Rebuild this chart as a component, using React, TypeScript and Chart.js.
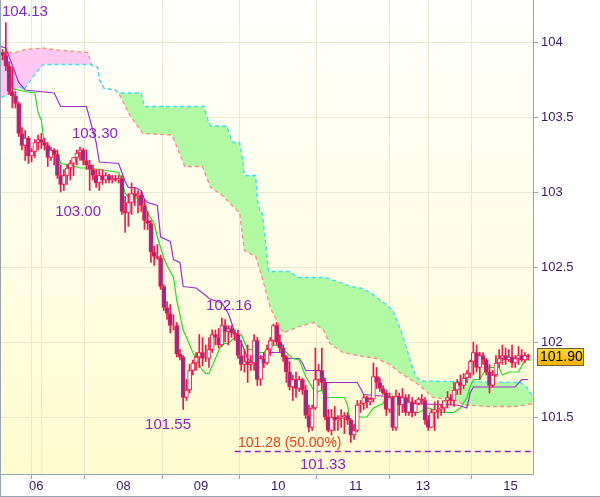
import React, { useEffect, useRef } from 'react';
import { Chart, registerables } from 'chart.js';

Chart.register(...registerables);

// ---- candle data (hourly bars, index 0..163) ----
const OPEN = [103.93,103.91,103.84,103.67,103.64,103.59,103.39,103.31,103.36,103.24,103.27,103.33,103.35,103.33,103.31,103.23,103.28,103.25,103.11,103.05,103.11,103.16,103.19,103.23,103.26,103.28,103.21,103.18,103.15,103.11,103.06,103.11,103.08,103.11,103.08,103.09,103.08,103.09,102.87,102.86,102.93,102.99,102.97,102.98,102.91,102.81,102.79,102.60,102.57,102.56,102.37,102.23,102.19,102.11,102.11,101.92,101.90,101.63,101.68,101.81,101.86,101.90,101.93,101.89,101.89,101.95,102.05,102.03,101.98,102.11,102.07,102.09,102.06,102.05,101.91,101.85,101.87,101.85,101.86,102.01,101.75,101.89,101.86,101.95,102.01,102.11,102.00,101.96,101.90,101.80,101.70,101.75,101.69,101.75,101.68,101.51,101.43,101.56,101.75,101.81,101.73,101.50,101.41,101.50,101.48,101.49,101.50,101.51,101.48,101.38,101.41,101.58,101.59,101.63,101.60,101.62,101.77,101.73,101.69,101.66,101.55,101.63,101.43,101.64,101.58,101.63,101.53,101.60,101.53,101.59,101.62,101.61,101.48,101.43,101.53,101.55,101.55,101.56,101.61,101.63,101.61,101.68,101.73,101.71,101.76,101.79,101.87,101.93,101.83,101.91,101.88,101.80,101.71,101.78,101.86,101.89,101.91,101.88,101.90,101.86,101.89,101.91,101.88,101.91];
const HIGH = [103.95,104.13,103.87,103.83,103.67,103.60,103.43,103.41,103.37,103.29,103.35,103.38,103.39,103.36,103.33,103.30,103.29,103.28,103.18,103.15,103.18,103.21,103.23,103.28,103.30,103.29,103.28,103.21,103.18,103.15,103.15,103.15,103.13,103.12,103.11,103.11,103.11,103.11,102.97,102.99,103.06,103.03,103.01,103.00,102.95,102.87,102.81,102.64,102.65,102.58,102.38,102.27,102.25,102.18,102.13,101.95,101.91,101.75,101.85,101.88,101.93,102.05,102.03,101.98,102.03,102.08,102.08,102.09,102.16,102.15,102.11,102.11,102.08,102.08,102.01,101.95,101.98,101.91,102.05,102.03,101.91,101.93,101.98,102.03,102.12,102.13,102.05,101.98,101.91,101.87,101.78,101.80,101.77,101.76,101.71,101.58,101.58,101.96,101.85,101.96,101.76,101.55,101.55,101.57,101.51,101.55,101.53,101.53,101.49,101.45,101.61,101.61,101.65,101.64,101.63,101.86,101.83,101.76,101.71,101.68,101.66,101.64,101.68,101.66,101.69,101.65,101.65,101.63,101.61,101.63,101.65,101.63,101.51,101.55,101.60,101.61,101.58,101.61,101.67,101.65,101.73,101.75,101.78,101.79,101.81,101.88,102.00,101.98,101.93,101.93,101.89,101.85,101.81,101.91,101.95,101.98,101.96,101.95,101.98,101.91,101.97,101.95,101.93,101.92];
const LOW = [103.88,103.81,103.65,103.56,103.56,103.37,103.28,103.21,103.19,103.20,103.23,103.28,103.29,103.28,103.17,103.21,103.18,103.09,103.00,103.01,103.05,103.08,103.11,103.18,103.21,103.18,103.15,103.01,103.08,103.03,103.01,103.05,103.06,103.06,103.06,103.07,103.06,102.85,102.73,102.77,102.85,102.91,102.86,102.87,102.75,102.75,102.53,102.51,102.55,102.35,102.21,102.15,102.06,102.08,101.90,101.88,101.55,101.61,101.66,101.78,101.81,101.83,101.84,101.87,101.83,101.93,101.98,101.96,101.97,102.00,101.98,102.03,102.01,101.89,101.81,101.80,101.73,101.81,101.81,101.71,101.71,101.83,101.85,101.91,101.98,101.98,101.93,101.87,101.73,101.68,101.61,101.63,101.67,101.65,101.49,101.40,101.41,101.55,101.71,101.68,101.48,101.40,101.38,101.41,101.41,101.43,101.39,101.45,101.33,101.35,101.40,101.53,101.55,101.56,101.58,101.60,101.69,101.67,101.65,101.51,101.53,101.41,101.41,101.51,101.53,101.51,101.51,101.50,101.51,101.58,101.59,101.45,101.41,101.43,101.41,101.49,101.51,101.53,101.56,101.58,101.57,101.65,101.65,101.69,101.73,101.76,101.78,101.80,101.75,101.85,101.78,101.66,101.70,101.77,101.83,101.85,101.85,101.87,101.83,101.83,101.85,101.87,101.86,101.88];
const CLOSE = [103.91,103.84,103.67,103.64,103.59,103.39,103.31,103.36,103.24,103.27,103.33,103.35,103.33,103.31,103.23,103.28,103.25,103.11,103.05,103.11,103.16,103.19,103.23,103.26,103.28,103.21,103.18,103.15,103.11,103.06,103.11,103.08,103.11,103.08,103.09,103.08,103.09,102.87,102.86,102.93,102.99,102.97,102.98,102.91,102.81,102.79,102.60,102.57,102.56,102.37,102.23,102.19,102.11,102.11,101.92,101.90,101.63,101.68,101.81,101.86,101.90,101.93,101.89,101.89,101.95,102.05,102.03,101.98,102.11,102.07,102.09,102.06,102.05,101.91,101.85,101.87,101.85,101.86,102.01,101.75,101.89,101.86,101.95,102.01,102.11,102.00,101.96,101.90,101.80,101.70,101.75,101.69,101.75,101.68,101.51,101.43,101.56,101.75,101.81,101.73,101.50,101.41,101.50,101.48,101.49,101.50,101.51,101.48,101.38,101.41,101.58,101.59,101.63,101.60,101.62,101.77,101.73,101.69,101.66,101.55,101.63,101.43,101.64,101.58,101.63,101.53,101.60,101.53,101.59,101.62,101.61,101.48,101.43,101.53,101.55,101.55,101.56,101.61,101.63,101.61,101.68,101.73,101.71,101.76,101.79,101.87,101.93,101.83,101.91,101.88,101.80,101.71,101.78,101.86,101.89,101.91,101.88,101.90,101.86,101.89,101.91,101.88,101.91,101.90];

// ---- Ichimoku lines: [bar index, price] vertices ----
const TENKAN: [number, number][] = [[-0.5,103.89],[1,103.89],[2,103.83],[3,103.69],[7,103.67],[10,103.66],[11,103.53],[12,103.48],[13,103.30],[14,103.28],[17,103.27],[18,103.19],[21,103.18],[24,103.16],[27,103.16],[30,103.15],[36,103.13],[37,103.08],[38,102.99],[39,102.97],[43,102.95],[44,102.93],[45,102.86],[47,102.79],[48,102.70],[50,102.56],[51,102.51],[53,102.43],[54,102.28],[56,102.08],[57,102.03],[59,101.93],[60,101.89],[62,101.81],[63,101.79],[64,101.79],[68,101.99],[70,101.99],[72,102.03],[74,102.05],[76,101.95],[78,101.95],[79,101.93],[81,101.93],[83,101.97],[85,101.98],[88,101.93],[90,101.89],[92,101.88],[94,101.77],[97,101.66],[98,101.67],[99,101.68],[100,101.63],[106,101.63],[107,101.58],[108,101.43],[109,101.43],[110,101.50],[113,101.50],[115,101.56],[118,101.59],[119,101.64],[123,101.63],[125,101.55],[126,101.53],[129,101.53],[131,101.55],[132,101.56],[136,101.53],[140,101.53],[142,101.56],[144,101.63],[145,101.70],[146,101.75],[148,101.75],[149,101.79],[151,101.83],[154,101.83],[155,101.78],[157,101.80],[160,101.80],[161,101.84],[162,101.88],[164,101.88]];
const KIJUN: [number, number][] = [[-0.5,103.97],[1,103.96],[5,103.73],[7,103.68],[16,103.66],[18,103.57],[26,103.57],[29,103.33],[30,103.20],[36,103.19],[38,103.07],[39,103.03],[41,103.03],[43,103.01],[44,102.95],[45,102.93],[48,102.91],[49,102.70],[52,102.67],[53,102.55],[55,102.53],[56,102.37],[60,102.36],[63,102.31],[64,102.29],[68,102.26],[70,102.19],[71,102.13],[72,102.06],[73,102.03],[74,102.00],[76,101.89],[77,101.87],[79,101.87],[81,101.91],[82,101.93],[87,101.93],[88,101.89],[92,101.89],[93,101.86],[94,101.81],[99,101.81],[100,101.73],[110,101.73],[111,101.69],[112,101.65],[123,101.63],[124,101.59],[141,101.58],[144,101.56],[145,101.66],[146,101.70],[159,101.70],[161,101.75],[163,101.75]];
const SPAN_A: [number, number][] = [[-0.5,103.63],[1.5,103.65],[5.5,103.70],[6.5,103.68],[9.5,103.77],[12.5,103.85],[27,103.85],[29.5,103.83],[30,103.75],[31.5,103.69],[35,103.68],[36,103.66],[43,103.66],[44,103.57],[62.5,103.57],[63.5,103.49],[64.5,103.44],[69.5,103.44],[70.5,103.38],[71.5,103.33],[73.5,103.33],[74.5,103.21],[75,103.11],[78.5,103.11],[79,102.95],[80,102.86],[80.5,102.86],[81.5,102.68],[82.5,102.47],[89,102.47],[91.5,102.43],[100,102.43],[105.5,102.39],[108,102.37],[111,102.36],[114,102.33],[117,102.28],[119,102.25],[121,102.21],[122.5,102.13],[123.5,102.08],[125,101.98],[126.5,101.87],[128,101.78],[129.5,101.74],[159,101.73],[160.5,101.73],[162.5,101.70],[164.5,101.63]];
const SPAN_B: [number, number][] = [[-0.5,103.93],[4,103.93],[7,103.95],[12.5,103.96],[15.5,103.95],[26.5,103.93],[27.5,103.85],[29.5,103.83],[30,103.75],[31.5,103.69],[35,103.68],[36,103.66],[39.5,103.51],[43.5,103.39],[52.5,103.38],[53.5,103.33],[56.5,103.17],[62,103.17],[64.5,103.03],[68,102.98],[73.5,102.86],[75,102.61],[78.5,102.57],[80.5,102.43],[82,102.31],[83,102.23],[87,102.06],[91.5,102.10],[96.5,102.13],[99.5,102.08],[101.5,101.99],[105.5,101.93],[110,101.91],[116,101.89],[120,101.85],[123,101.80],[126.5,101.75],[129.5,101.71],[133.5,101.63],[140.5,101.61],[143.5,101.58],[151,101.57],[159,101.57],[162,101.58],[164.5,101.59]];

// ---- level line ----
const LEVEL_PRICE = 101.27;
const LEVEL_FROM = 72;
const LEVEL_TO = 164.5;

// ---- annotations ----
const NOTE_TEXT = ['104.13', '103.30', '103.00', '101.55', '102.16', '101.33'];
const NOTE_X = [-0.2, 21.5, 16.3, 44.2, 63.1, 92.2];
const NOTE_Y = [104.2, 103.39, 102.87, 101.45, 102.24, 101.18];
const LEVEL_TEXT = '101.28 (50.00%)';
const LEVEL_TEXT_X = 73.0;
const LEVEL_TEXT_Y = 101.327;
const LAST_PRICE = 101.9;

// ---- axes ----
const X_TICK_POS = [10.4, 13.5, 37.5, 61.5, 85.5, 109.5, 130.4, 133.5, 157.5];
const X_TICK_LABELS = ['06', '', '08', '09', '10', '11', '13', '', '15'];
const Y_TICKS = [101.5, 102, 102.5, 103, 103.5, 104];
const Y_MIN = 101.12;
const Y_MAX = 104.28;

const RED = '#f0164c';
const BEAR = '#8d2f92';
const BULL = '#fffff2';
const FONT = "'Liberation Sans', Arial, sans-serif";
const AXIS_TEXT = '#3b1767';
const NOTE_COLOR = '#8b22c8';
const GRID = '#e9e9d2';
const AXIS_LINE = '#98a4ae';

const bgPlugin = {
  id: 'bgPlugin',
  beforeDraw(chart: any) {
    const { ctx, chartArea: a, width, height } = chart;
    ctx.save();
    ctx.fillStyle = '#ffffff';
    ctx.fillRect(0, 0, width, height);
    const g = ctx.createLinearGradient(0, a.top, 0, a.bottom);
    g.addColorStop(0, '#fffffd');
    g.addColorStop(1, '#fffcd0');
    ctx.fillStyle = g;
    ctx.fillRect(a.left, a.top, a.right - a.left, a.bottom - a.top);
    ctx.restore();
  },
};

const notesPlugin = {
  id: 'notesPlugin',
  afterDatasetsDraw(chart: any) {
    const { ctx } = chart;
    const xs = chart.scales.x;
    const ys = chart.scales.y;
    ctx.save();
    ctx.textAlign = 'left';
    ctx.textBaseline = 'middle';
    ctx.font = `15px ${FONT}`;
    ctx.fillStyle = NOTE_COLOR;
    NOTE_TEXT.forEach((t, k) => {
      ctx.fillText(t, xs.getPixelForValue(NOTE_X[k]), ys.getPixelForValue(NOTE_Y[k]));
    });
    ctx.font = `14px ${FONT}`;
    ctx.fillStyle = '#f0401c';
    ctx.fillText(LEVEL_TEXT, xs.getPixelForValue(LEVEL_TEXT_X), ys.getPixelForValue(LEVEL_TEXT_Y));
    ctx.restore();
  },
  afterDraw(chart: any) {
    const { ctx, chartArea: a, width, height } = chart;
    const ys = chart.scales.y;
    ctx.save();
    const y = Math.round(ys.getPixelForValue(LAST_PRICE));
    const bx = a.right + 4;
    const by = y - 9;
    const g = ctx.createLinearGradient(0, by, 0, by + 18);
    g.addColorStop(0, '#ffdb3a');
    g.addColorStop(1, '#f0b000');
    ctx.fillStyle = g;
    ctx.fillRect(bx, by, 47, 18);
    ctx.strokeStyle = '#6f6040';
    ctx.lineWidth = 1;
    ctx.strokeRect(bx + 0.5, by + 0.5, 46, 17);
    ctx.fillStyle = '#000000';
    ctx.font = `14px ${FONT}`;
    ctx.textAlign = 'left';
    ctx.textBaseline = 'middle';
    ctx.fillText(LAST_PRICE.toFixed(2), bx + 3, y + 0.5);
    ctx.strokeStyle = AXIS_LINE;
    ctx.beginPath();
    ctx.moveTo(0.5, 0);
    ctx.lineTo(0.5, height);
    ctx.moveTo(0, height - 0.5);
    ctx.lineTo(width, height - 0.5);
    ctx.stroke();
    ctx.restore();
  },
};

export default function App() {
  const ref = useRef<HTMLCanvasElement>(null);

  useEffect(() => {
    document.body.style.margin = '0';
    const idx = CLOSE.map((_, i) => i);
    const pts = (arr: [number, number][]) => arr.map(([x, y]) => ({ x, y }));
    const chart = new Chart(ref.current as HTMLCanvasElement, {
      type: 'bar',
      data: {
        datasets: [
          {
            type: 'bar',
            label: 'body',
            data: idx.map((i) => ({ x: i, y: [OPEN[i], CLOSE[i]] })) as any,
            backgroundColor: idx.map((i) => (CLOSE[i] < OPEN[i] ? BEAR : BULL)),
            borderColor: RED,
            borderWidth: 1,
            borderSkipped: false,
            barThickness: 4,
            grouped: false,
            order: 0,
          } as any,
          {
            type: 'bar',
            label: 'wick',
            data: idx.map((i) => ({ x: i, y: [LOW[i], HIGH[i]] })) as any,
            backgroundColor: RED,
            barThickness: 1,
            grouped: false,
            order: 1,
          } as any,
          {
            type: 'line',
            label: 'tenkan',
            data: pts(TENKAN),
            borderColor: '#22dd22',
            borderWidth: 1.2,
            pointRadius: 0,
            tension: 0,
            order: 2,
          } as any,
          {
            type: 'line',
            label: 'kijun',
            data: pts(KIJUN),
            borderColor: '#9b30d0',
            borderWidth: 1.2,
            pointRadius: 0,
            tension: 0,
            order: 3,
          } as any,
          {
            type: 'line',
            label: 'spanA',
            data: pts(SPAN_A),
            borderColor: '#34e2f2',
            borderWidth: 1.3,
            borderDash: [4, 3],
            pointRadius: 0,
            tension: 0,
            fill: { target: '+1', above: '#b2f9a4', below: '#ffc8f2' },
            order: 6,
          } as any,
          {
            type: 'line',
            label: 'spanB',
            data: pts(SPAN_B),
            borderColor: '#f3907e',
            borderWidth: 1.3,
            borderDash: [4, 3],
            pointRadius: 0,
            tension: 0,
            fill: false,
            order: 7,
          } as any,
          {
            type: 'line',
            label: 'level',
            data: [
              { x: LEVEL_FROM, y: LEVEL_PRICE },
              { x: LEVEL_TO, y: LEVEL_PRICE },
            ],
            borderColor: '#8b22d0',
            borderWidth: 1.3,
            borderDash: [6, 4],
            pointRadius: 0,
            order: 4,
          } as any,
        ],
      },
      options: {
        responsive: false,
        animation: false,
        events: [],
        layout: { padding: { left: 1, top: 0, right: 0, bottom: 0 } },
        plugins: {
          legend: { display: false },
          tooltip: { enabled: false },
          filler: { drawTime: 'beforeDatasetsDraw' } as any,
        },
        scales: {
          x: {
            type: 'linear',
            min: -0.5,
            max: 164.5,
            offset: false,
            afterBuildTicks: (s: any) => {
              s.ticks = X_TICK_POS.map((v) => ({ value: v }));
            },
            afterFit: (s: any) => {
              s.height = 23;
              s.paddingLeft = 0;
              s.paddingRight = 0;
            },
            ticks: {
              autoSkip: false,
              maxRotation: 0,
              padding: 0,
              color: AXIS_TEXT,
              font: { family: FONT, size: 13 },
              callback: (_v: any, i: number) => X_TICK_LABELS[i],
            },
            grid: {
              color: GRID,
              tickLength: 5,
              tickColor: (c: any) => (X_TICK_LABELS[c.index] ? AXIS_LINE : 'rgba(0,0,0,0)'),
            },
            border: { color: AXIS_LINE, width: 1 },
          },
          y: {
            type: 'linear',
            position: 'right',
            min: Y_MIN,
            max: Y_MAX,
            afterBuildTicks: (s: any) => {
              s.ticks = Y_TICKS.map((v) => ({ value: v }));
            },
            afterFit: (s: any) => {
              s.width = 67;
              s.paddingTop = 0;
              s.paddingBottom = 0;
            },
            ticks: {
              padding: 3,
              color: AXIS_TEXT,
              font: { family: FONT, size: 13 },
              callback: (v: any) => {
                const n = Number(v);
                return Number.isInteger(n) ? n.toFixed(0) : n.toFixed(1);
              },
            },
            grid: { color: GRID, tickLength: 5, tickColor: AXIS_LINE },
            border: { color: AXIS_LINE, width: 1 },
          },
        },
      },
      plugins: [bgPlugin, notesPlugin],
    });
    return () => chart.destroy();
  }, []);

  return (
    <canvas
      ref={ref}
      width={600}
      height={497}
      style={{ display: 'block', width: 600, height: 497 }}
    />
  );
}
